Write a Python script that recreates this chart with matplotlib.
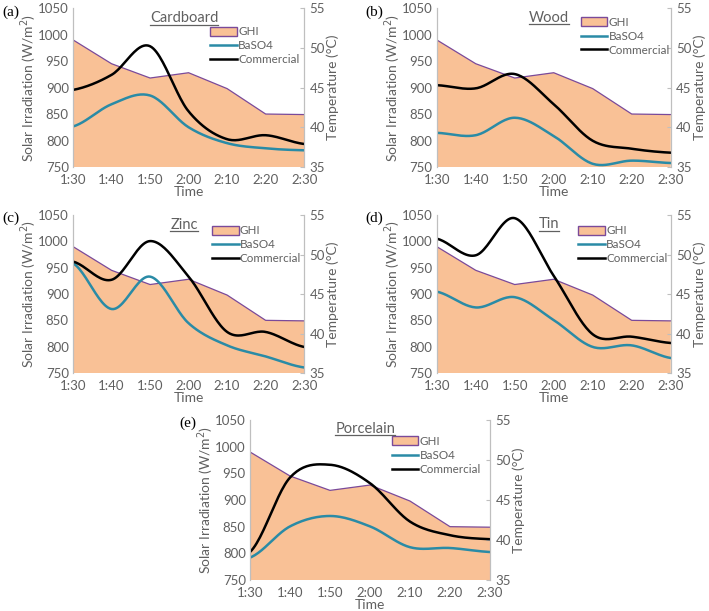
import numpy as np
import matplotlib.pyplot as plt
from matplotlib.patches import Patch
from matplotlib.lines import Line2D

# time axis
times = ["1:30", "1:40", "1:50", "2:00", "2:10", "2:20", "2:30"]

# global horizontal irradiance (W/m2), same in every panel
ghi = [990, 945, 918, 928, 898, 850, 849]

# temperatures (deg C) for each substrate
cardboard_baso4 = [40.1, 42.9, 44.0, 40.0, 38.0, 37.35, 37.1]
cardboard_comm = [44.7, 46.6, 50.2, 42.0, 38.5, 39.0, 37.9]

wood_baso4 = [39.3, 39.0, 41.2, 38.9, 35.4, 35.8, 35.5]
wood_comm = [45.3, 44.9, 46.7, 42.9, 38.3, 37.3, 36.8]

zinc_baso4 = [48.9, 43.1, 47.2, 41.3, 38.5, 37.1, 35.7]
zinc_comm = [49.1, 46.8, 51.7, 47.2, 40.2, 40.2, 38.3]

tin_baso4 = [45.3, 43.3, 44.6, 41.7, 38.3, 38.5, 36.9]
tin_comm = [52.0, 49.9, 54.6, 47.3, 39.9, 39.6, 38.8]

porcelain_baso4 = [37.8, 41.7, 43.0, 41.7, 39.1, 39.0, 38.5]
porcelain_comm = [38.5, 47.8, 49.4, 47.1, 42.3, 40.6, 40.1]

# label, name, baso4, commercial, axes rect, legend anchor, title y
panels = [
    ("(a)", "Cardboard", cardboard_baso4, cardboard_comm, [0.103, 0.7267, 0.326, 0.260], (0.593, 0.885), 0.935),
    ("(b)", "Wood", wood_baso4, wood_comm, [0.616, 0.7267, 0.330, 0.260], (0.615, 0.945), 0.94),
    ("(c)", "Zinc", zinc_baso4, zinc_comm, [0.103, 0.3895, 0.326, 0.2586], (0.60, 0.935), 0.937),
    ("(d)", "Tin", tin_baso4, tin_comm, [0.616, 0.3895, 0.330, 0.2586], (0.605, 0.935), 0.94),
    ("(e)", "Porcelain", porcelain_baso4, porcelain_comm, [0.3526, 0.0507, 0.3385, 0.262], (0.59, 0.90), 0.944),
]

FILL = "#F9C196"
EDGE = "#7A4A9A"
TEAL = "#2A8BA6"
GREY = "#606060"
SPINE = "#BFBFBF"
FONT = ["Lato", "DejaVu Sans"]

plt.rcParams["font.family"] = FONT


def smooth(y, n=24):
    # excel-like smoothed line (catmull-rom through the points)
    y = np.asarray(y, float)
    p = np.concatenate([[y[0]], y, [y[-1]]])
    xs, ys = [], []
    for i in range(len(y) - 1):
        p0, p1, p2, p3 = p[i], p[i + 1], p[i + 2], p[i + 3]
        t = np.linspace(0, 1, n, endpoint=False)
        yy = 0.5 * ((2 * p1) + (-p0 + p2) * t + (2 * p0 - 5 * p1 + 4 * p2 - p3) * t**2
                    + (-p0 + 3 * p1 - 3 * p2 + p3) * t**3)
        xs.append(i + t)
        ys.append(yy)
    xs.append([len(y) - 1])
    ys.append([y[-1]])
    return np.concatenate(xs), np.concatenate(ys)


fig = plt.figure(figsize=(7.09, 6.11), dpi=100)
x = np.arange(len(times))
titles = []

for label, name, baso4, comm, pos, leg_at, ty in panels:
    ax = fig.add_axes(pos)
    ax.fill_between(x, 750, ghi, facecolor=FILL, edgecolor="none", zorder=1)
    ax.plot(x, ghi, color=EDGE, lw=0.9, zorder=2)
    ax.set_xlim(0, 6)
    ax.set_ylim(750, 1050)
    ax.set_yticks(range(750, 1051, 50))
    ax.set_xticks(x)
    ax.set_xticklabels(times)
    ax.set_xlabel("Time", color=GREY, fontsize=10, labelpad=0)
    ax.set_ylabel("Solar Irradiation (W/m$^2$)", color=GREY, fontsize=10, labelpad=-1)
    ax.tick_params(axis="both", colors=GREY, labelsize=9.5, length=0)
    ax.tick_params(axis="x", pad=5)
    ax.tick_params(axis="y", pad=3)

    ax2 = ax.twinx()
    bx, by = smooth(baso4)
    cx, cy = smooth(comm)
    ax2.plot(bx, by, color=TEAL, lw=1.8)
    ax2.plot(cx, cy, color="black", lw=1.8)
    ax2.set_ylim(35, 55)
    ax2.set_yticks(range(35, 56, 5))
    ax2.set_ylabel("Temperature (\u00b0C)", color=GREY, fontsize=10, labelpad=1)
    ax2.tick_params(axis="y", labelcolor=GREY, labelsize=9.5, length=3, width=0.8,
                    color=SPINE, direction="in", pad=4)

    for a in (ax, ax2):
        a.spines["top"].set_visible(False)
        a.spines["bottom"].set_visible(False)
        a.spines["left"].set_color(SPINE)
        a.spines["right"].set_color(SPINE)

    handles = [Patch(facecolor=FILL, edgecolor=EDGE, lw=1.0),
               Line2D([], [], color=TEAL, lw=1.8),
               Line2D([], [], color="black", lw=1.8)]
    leg = ax2.legend(handles, ["GHI", "BaSO4", "Commercial"], loc="upper left",
                     bbox_to_anchor=leg_at, frameon=False, fontsize=8.4,
                     handlelength=2.3, handleheight=0.8, handletextpad=0.1,
                     labelspacing=0.25, borderaxespad=0, borderpad=0)
    for t in leg.get_texts():
        t.set_color(GREY)

    tt = ax2.text(0.48, ty, name, transform=ax2.transAxes, ha="center", va="center",
                  color=GREY, fontsize=10.5)
    titles.append(tt)

    fig.text(pos[0] - 0.1, pos[1] + pos[3] - 0.006, label, family="Liberation Serif",
             fontsize=11, va="center", ha="left")

# underline the material names
fig.canvas.draw()
inv = fig.transFigure.inverted()
for tt in titles:
    bb = tt.get_window_extent()
    (x0, y0), (x1, _) = inv.transform([[bb.x0, bb.y0], [bb.x1, bb.y1]])
    fig.add_artist(Line2D([x0, x1], [y0 + 0.001, y0 + 0.001], color=GREY, lw=0.9,
                          transform=fig.transFigure))

fig.savefig("out.png", dpi=100)
